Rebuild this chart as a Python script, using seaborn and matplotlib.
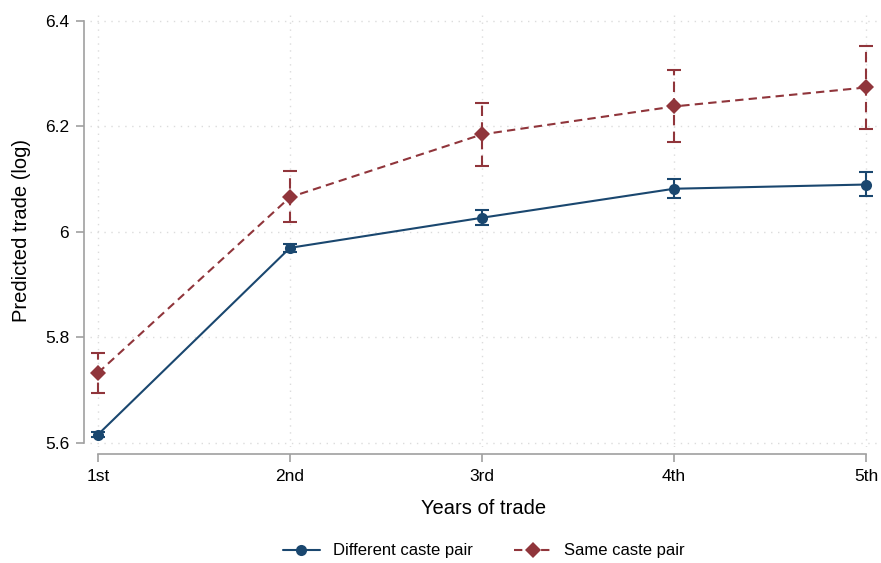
import numpy as np
import pandas as pd
import matplotlib
matplotlib.use("Agg")
import matplotlib.pyplot as plt
import seaborn as sns
from matplotlib.ticker import FuncFormatter

sns.set_theme(style="white")
plt.rcParams['font.family'] = ['Liberation Sans', 'DejaVu Sans']
plt.rcParams['text.color'] = 'black'
plt.rcParams['axes.labelcolor'] = 'black'

years = ['1st', '2nd', '3rd', '4th', '5th']
groups = ['Different caste pair', 'Same caste pair']

diff_pred = [5.616, 5.970, 6.027, 6.082, 6.090]
diff_lo = [5.611, 5.962, 6.013, 6.064, 6.068]
diff_hi = [5.621, 5.978, 6.041, 6.101, 6.113]

same_pred = [5.733, 6.066, 6.185, 6.238, 6.274]
same_lo = [5.695, 6.019, 6.125, 6.170, 6.196]
same_hi = [5.770, 6.115, 6.245, 6.308, 6.353]

yticks = [5.6, 5.8, 6.0, 6.2, 6.4]

blue, red = '#1a476f', '#90353b'
palette = {groups[0]: blue, groups[1]: red}

df = pd.DataFrame({
    'pos': list(range(len(years))) * 2,
    'pred': diff_pred + same_pred,
    'lo': diff_lo + same_lo,
    'hi': diff_hi + same_hi,
    'group': [groups[0]] * len(years) + [groups[1]] * len(years),
})

fig = plt.figure(figsize=(8.81, 5.63), dpi=100)
ax = fig.add_axes([90 / 881, 1 - 447 / 563, 788 / 881, 432 / 563])

# error bars first so markers sit on top
for g, ls in zip(groups, ['-', (0, (5, 3))]):
    sub = df[df.group == g]
    eb = ax.errorbar(sub.pos, sub.pred,
                     yerr=[sub.pred - sub.lo, sub.hi - sub.pred],
                     fmt='none', ecolor=palette[g], elinewidth=1.5,
                     capsize=5, capthick=1.5, zorder=2)
    eb[2][0].set_linestyle(ls)

sns.lineplot(data=df, x='pos', y='pred', hue='group', style='group',
             palette=palette, markers={groups[0]: 'o', groups[1]: 'D'},
             dashes={groups[0]: '', groups[1]: (4, 2.5)},
             markersize=8, markeredgewidth=0, linewidth=1.5, ax=ax, zorder=3)

ax.set_xlim(-8 / 192, 4 + 12 / 192)
ax.set_ylim(5.6 - 4 / 527.5, 6.4 + 6 / 527.5)
ax.set_xticks(range(len(years)))
ax.set_xticklabels(years)
ax.set_yticks(yticks)
ax.yaxis.set_major_formatter(FuncFormatter(lambda v, p: f'{v:g}'))

ax.grid(True, linestyle=(0, (1, 4)), color='#dcdcdc', linewidth=1)
for s in ['top', 'right']:
    ax.spines[s].set_visible(False)
for s in ['left', 'bottom']:
    ax.spines[s].set_color('#a0a0a0')
    ax.spines[s].set_linewidth(1.2)
ax.spines['left'].set_position(('outward', 4))
ax.spines['bottom'].set_position(('outward', 5))
ax.spines['left'].set_bounds(5.6, 6.4)
ax.spines['bottom'].set_bounds(0, 4)
ax.tick_params(axis='both', direction='out', length=6, width=1.2,
               color='#a0a0a0', labelsize=12.5, labelcolor='black', pad=5)
ax.tick_params(axis='both', left=True, bottom=True)

ax.set_xlabel('Years of trade', fontsize=14.5, labelpad=11, color='black')
ax.set_ylabel('Predicted trade (log)', fontsize=14.5, labelpad=10, color='black')

sns.move_legend(ax, 'center', bbox_to_anchor=(0.5, -(551 - 447) / 432), ncol=2,
                frameon=False, title=None, fontsize=12, columnspacing=2.5,
                handlelength=2.2)

fig.savefig('out.png', dpi=100)
